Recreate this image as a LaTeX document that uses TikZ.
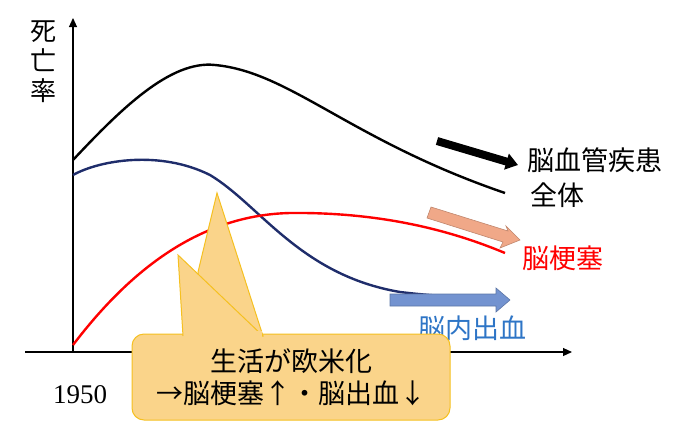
\documentclass[tikz,border=0pt]{standalone}
\usepackage{fontspec}
\setmainfont{Noto Sans CJK JP}
\usetikzlibrary{arrows.meta}
\definecolor{navy}{HTML}{1F2D6B}
\definecolor{callfill}{HTML}{FAD48A}
\definecolor{callline}{HTML}{F5C020}
\definecolor{oarrow}{HTML}{F0A888}
\definecolor{barrow}{HTML}{7393D0}
\definecolor{lblue}{HTML}{2E75C6}
\tikzset{curve/.style={line width=2.4pt},
 lbl/.style={font=\fontsize{27}{30}\selectfont, anchor=west, inner sep=0}}
\begin{document}
\begin{tikzpicture}[x=1pt,y=-1pt]
\useasboundingbox (0,0) rectangle (688,429);
\coordinate (yo) at (73,352); \coordinate (yt) at (73,18);
\coordinate (xo) at (25,352); \coordinate (xt) at (572,352);
\draw[-{Triangle[length=9pt,width=8pt]}, line width=1.1pt] (yo) -- (yt);
\draw[-{Triangle[length=9pt,width=8pt]}, line width=1.1pt] (xo) -- (xt);
\node[font=\fontsize{26}{30}\selectfont, align=center] (ylab) at (43,62) {死\\亡\\率};
\node[font=\fontsize{27}{30}\selectfont] (yr) at (80,395) {\fontspec{Liberation Serif}1950};
% curves
\draw[curve,black] (73,160) .. controls (120,110) and (170,60) .. (215,65) .. controls (290,72) and (350,140) .. (505,193);
\draw[curve,navy] (73,175) .. controls (100,160) and (160,150) .. (210,175) .. controls (260,205) and (300,275) .. (400,292) .. controls (450,298) and (490,298) .. (505,298);
\draw[curve,red] (73,345) .. controls (130,270) and (200,215) .. (290,213) .. controls (380,212) and (450,230) .. (505,253);
% arrows
\draw[line width=8pt, -{Triangle[length=12pt,width=16pt]}] (437,141) -- (518,165);
\draw[fill=oarrow, draw=oarrow!80!black, line width=0.6pt] (431,207) -- (508,231) -- (506,226) -- (520,240) -- (500,248) -- (503,242) -- (427,218) -- cycle;
\draw[fill=barrow, draw=barrow!80!black, line width=0.6pt] (390,294) -- (496,294) -- (496,288) -- (510,300) -- (496,312) -- (496,306) -- (390,306) -- cycle;
\node[lbl] (l1) at (527,160) {脳血管疾患};
\node[lbl] (l2) at (530,195) {全体};
\node[lbl, text=red] (l3) at (522,258) {脳梗塞};
\node[lbl, text=lblue] (l4) at (418,328) {脳内出血};
% callout
\draw[fill=callfill, draw=callline, line width=1pt, rounded corners=12pt] (132,334) rectangle (450,420);
\draw[fill=callfill, draw=callline, line width=1pt] (198,272) -- (217,193) -- (263,336) -- (199,336) -- cycle;
\draw[fill=callfill, draw=callline, line width=1pt] (183,336) -- (178,255) -- (263,336);
\fill[callfill] (184,337) rectangle (262,331);
\node[font=\fontsize{27}{32}\selectfont, align=center] (ct) at (291,377) {生活が欧米化\\→脳梗塞↑・脳出血↓};
\end{tikzpicture}
\end{document}
